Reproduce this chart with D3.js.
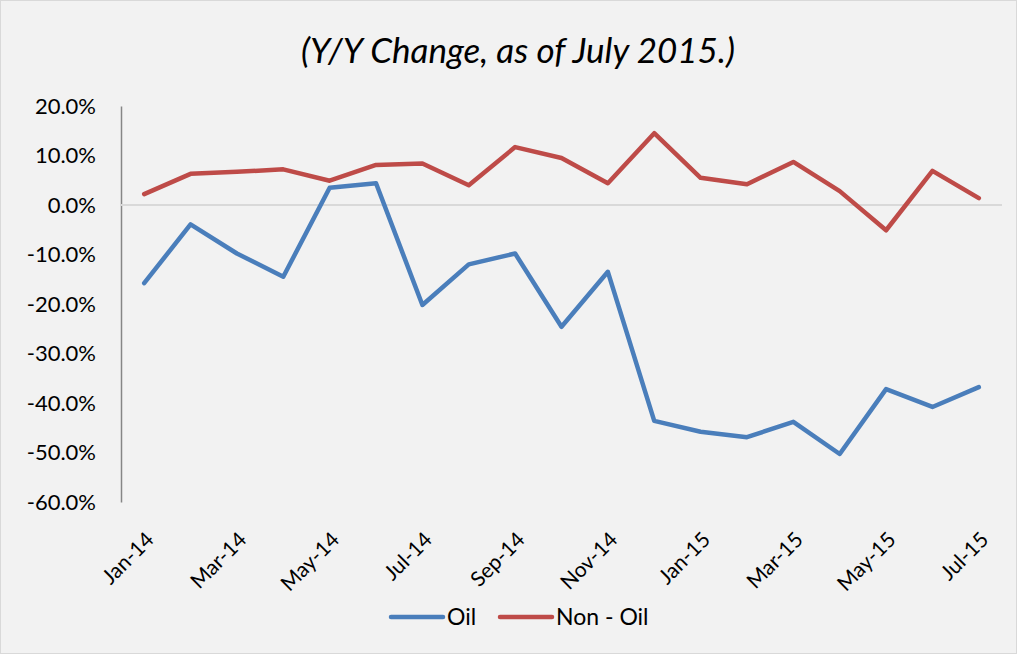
<!DOCTYPE html>
<html>
<head>
<meta charset="utf-8">
<script src="https://cdn.jsdelivr.net/npm/d3@7/dist/d3.min.js"></script>
<style>
  html, body { margin: 0; padding: 0; background: #fff; }
  svg { display: block; font-family: Lato, "Open Sans", sans-serif; }
</style>
</head>
<body>
<svg id="chart" width="1017" height="654"></svg>
<script>
const months = ["Jan-14", "Feb-14", "Mar-14", "Apr-14", "May-14", "Jun-14", "Jul-14", "Aug-14", "Sep-14", "Oct-14",
    "Nov-14", "Dec-14", "Jan-15", "Feb-15", "Mar-15", "Apr-15", "May-15", "Jun-15", "Jul-15"];
const oil = [-15.8, -3.9, -9.8, -14.5, 3.5, 4.4, -20.2, -12.0, -9.8, -24.6,
    -13.5, -43.6, -45.8, -46.9, -43.8, -50.3, -37.2, -40.8, -36.8];
const nonOil = [2.2, 6.3, 6.7, 7.2, 4.9, 8.1, 8.4, 4.0, 11.7, 9.5,
    4.4, 14.5, 5.5, 4.2, 8.7, 2.8, -5.1, 6.9, 1.4];
const yTicks = [20, 10, 0, -10, -20, -30, -40, -50, -60];
const shownMonths = months.filter((d, i) => i % 2 === 0);

const series = [
    { name: "Oil", values: oil, color: "#4a7ebb" },
    { name: "Non - Oil", values: nonOil, color: "#be4b48" }
];

const W = 1017, H = 654;
const margin = { top: 106, right: 15, bottom: 152, left: 121 };
const width = W - margin.left - margin.right;
const height = H - margin.top - margin.bottom;
const fontFamily = "Lato, 'Open Sans', sans-serif";

const svg = d3.select("#chart");

svg.append("rect")
    .attr("x", 0.5).attr("y", 0.5)
    .attr("width", W - 1).attr("height", H - 1)
    .attr("fill", "#f2f2f2")
    .attr("stroke", "#d9d9d9");

svg.append("text")
    .attr("x", 518)
    .attr("y", 63)
    .attr("text-anchor", "middle")
    .style("font-size", "35px")
    .style("font-style", "italic")
    .attr("fill", "#000")
    .text("(Y/Y Change, as of July 2015.)");

const g = svg.append("g").attr("transform", `translate(${margin.left},${margin.top})`);

const x = d3.scaleBand().domain(months).range([0, width]);
const y = d3.scaleLinear().domain([-60, 20]).range([height, 0]);

// y axis
const yAxis = g.append("g")
    .call(d3.axisLeft(y).tickValues(yTicks).tickSize(0).tickPadding(25).tickFormat(d => d.toFixed(1) + "%"))
    .attr("font-family", fontFamily);
yAxis.select(".domain").attr("stroke", "#868686").attr("stroke-width", 1.5);
yAxis.selectAll("text").style("font-size", "22px").attr("fill", "#000");

// zero line
g.append("line")
    .attr("x1", 0).attr("x2", width)
    .attr("y1", y(0)).attr("y2", y(0))
    .attr("stroke", "#d9d9d9")
    .attr("stroke-width", 2);

// x labels
const xAxis = g.append("g")
    .attr("transform", `translate(0,${height})`)
    .call(d3.axisBottom(x).tickValues(shownMonths).tickSize(0))
    .attr("font-family", fontFamily);
xAxis.select(".domain").remove();
xAxis.selectAll("text")
    .attr("text-anchor", "end")
    .attr("x", 0).attr("y", 0).attr("dy", 0)
    .attr("transform", "translate(11,39) rotate(-45)")
    .style("font-size", "21px")
    .attr("fill", "#000");

const line = d3.line()
    .x((d, i) => x(months[i]) + x.bandwidth() / 2)
    .y(d => y(d));

g.selectAll(".series")
    .data(series)
    .enter()
    .append("path")
    .attr("class", "series")
    .attr("d", d => line(d.values))
    .attr("fill", "none")
    .attr("stroke", d => d.color)
    .attr("stroke-width", 4.5)
    .attr("stroke-linejoin", "round")
    .attr("stroke-linecap", "round");

// legend
const legend = svg.append("g").attr("transform", "translate(0,617)");
const legendX = [391, 500];
series.forEach((s, i) => {
    legend.append("line")
        .attr("x1", legendX[i]).attr("x2", legendX[i] + 52)
        .attr("y1", 0).attr("y2", 0)
        .attr("stroke", s.color)
        .attr("stroke-width", 4.5)
        .attr("stroke-linecap", "round");
    legend.append("text")
        .attr("x", legendX[i] + 56)
        .attr("y", 8)
        .style("font-size", "23px")
        .attr("fill", "#000")
        .text(s.name);
});
</script>
</body>
</html>
